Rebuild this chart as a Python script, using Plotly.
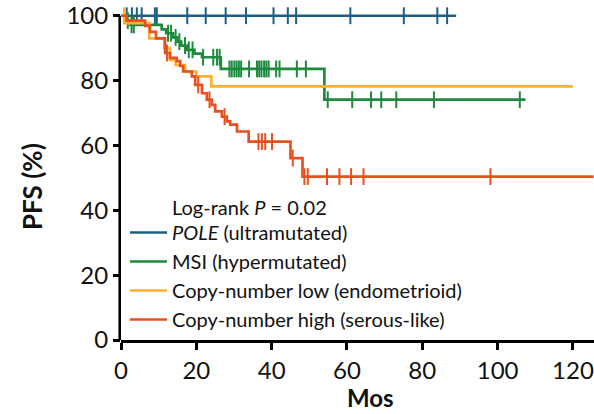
import plotly.graph_objects as go

# Kaplan-Meier step data: event times (months) and PFS (%) after each step
pole_t = [0]
pole_s = [100]
pole_end = 89
pole_cens = [1.5, 2.9, 4.2, 5.5, 9.0, 9.5, 17.6, 22.5, 27.8, 33.2, 40.5, 44.3,
             46.5, 60.9, 75.1, 84.0, 86.6]

msi_t = [0, 1, 2.5, 10.8, 12, 13.8, 15, 16, 17.5, 19.5, 21.5, 26.5, 54]
msi_s = [100, 98.5, 97.2, 95.8, 94.6, 93.3, 92.0, 90.8, 89.5, 88.3, 87.2, 83.6, 74.1]
msi_end = 107.4
msi_cens = [1.8, 2.8, 3.4, 12.5, 13.3, 14.5, 15.5, 17, 18, 19, 21.8, 24.5, 25.5,
            26.2, 28.8, 29.4, 30.1, 30.7, 31.3, 31.9, 34.0, 36.1, 36.7, 37.3, 38.0,
            38.6, 39.2, 41.2, 42.1, 46.7, 49.1, 54.9, 61.4, 66.4, 69.1, 73.1, 83.1,
            105.9]

cnl_t = [0, 1, 7.5, 11.5, 13, 14.5, 17, 20, 24]
cnl_s = [100, 97.7, 93.0, 90.1, 86.4, 84.8, 82.8, 81.3, 78.2]
cnl_end = 120
cnl_cens = [0.8]

cnh_t = [0, 1.5, 6.4, 7.7, 9.3, 11.7, 13, 14.8, 15.7, 16.5, 18.8, 19.7, 21.5, 22.8,
         24.1, 25, 26.8, 28.1, 29, 30.8, 33.9, 45.0, 48.2]
cnh_s = [100, 98.5, 96.9, 95.0, 93.0, 88.5, 87.0, 86.0, 84.5, 82.8, 81.3, 78.7, 76.1,
         74.1, 72.5, 70.5, 68.9, 67.4, 66.4, 64.3, 61.2, 56.1, 50.4]
cnh_end = 125.5
cnh_cens = [12.2, 20.5, 23.5, 27.5, 36.5, 37.4, 38.3, 40.1, 45.6, 48.7, 49.6, 54.7,
            58, 61.1, 64.4, 98.1]

groups = [
    ("<i>POLE</i> (ultramutated)", pole_t, pole_s, pole_end, pole_cens, "#1d5f80"),
    ("MSI (hypermutated)", msi_t, msi_s, msi_end, msi_cens, "#1e8a3e"),
    ("Copy-number low (endometrioid)", cnl_t, cnl_s, cnl_end, cnl_cens, "#fdb131"),
    ("Copy-number high (serous-like)", cnh_t, cnh_s, cnh_end, cnh_cens, "#e8511f"),
]

x_ticks = [0, 20, 40, 60, 80, 100, 120]
y_ticks = [0, 20, 40, 60, 80, 100]


def level_at(times, surv, t):
    """Survival level of the step function at time t."""
    val = surv[0]
    for ti, si in zip(times, surv):
        if ti <= t:
            val = si
    return val


FONT = "Lato"
fig = go.Figure()

for name, t, s, end, cens, color in groups:
    fig.add_trace(go.Scatter(
        x=list(t) + [end], y=list(s) + [s[-1]], mode="lines", name=name,
        line=dict(color=color, width=2.7, shape="hv"),
    ))
    fig.add_trace(go.Scatter(
        x=cens, y=[level_at(t, s, c) for c in cens], mode="markers",
        showlegend=False, cliponaxis=False,
        marker=dict(symbol="line-ns", size=12, line=dict(color=color, width=2)),
    ))

fig.update_layout(
    width=594, height=414,
    margin=dict(l=121, r=0, t=6, b=74),
    paper_bgcolor="white", plot_bgcolor="rgba(0,0,0,0)",
    font=dict(family=FONT, size=24, color="#111111"),
    showlegend=True,
    legend=dict(
        x=(125 - 121) / 473, xanchor="left", y=(340 - 213) / 334, yanchor="top",
        font=dict(family=FONT, size=20, color="#111111"),
        bgcolor="rgba(0,0,0,0)", itemwidth=37, tracegroupgap=0,
    ),
    xaxis=dict(
        range=[0, 125.6], tickvals=x_ticks, ticks="outside", ticklen=7,
        tickwidth=2.5, tickcolor="black", showline=True, linewidth=2.6,
        linecolor="black", showgrid=False, zeroline=False,
        tickfont=dict(family=FONT, size=24),
    ),
    yaxis=dict(
        range=[0, 103], tickvals=y_ticks, ticks="outside", ticklen=7,
        tickwidth=2.5, tickcolor="black", showline=False, showgrid=False,
        zeroline=False, tickfont=dict(family=FONT, size=24),
    ),
    shapes=[dict(
        type="line", xref="paper", yref="y", x0=-1.3 / 473, x1=-1.3 / 473,
        y0=0, y1=100, line=dict(color="black", width=2.6), layer="below",
    )],
    annotations=[
        dict(text="Log-rank <i>P</i> = 0.02", xref="paper", yref="paper",
             x=(170 - 121) / 473, y=(340 - 207) / 334, xanchor="left",
             yanchor="middle", showarrow=False, font=dict(family=FONT, size=20)),
        dict(text="<b>PFS (%)</b>", xref="paper", yref="paper",
             x=(32 - 121) / 473, y=(340 - 187) / 334, textangle=-90,
             xanchor="center", yanchor="middle", showarrow=False,
             font=dict(family=FONT, size=26)),
        dict(text="<b>Mos</b>", xref="paper", yref="paper",
             x=(370 - 121) / 473, y=(340 - 397) / 334, xanchor="center",
             yanchor="middle", showarrow=False, font=dict(family=FONT, size=24)),
    ],
)

fig.write_html("out.html")
